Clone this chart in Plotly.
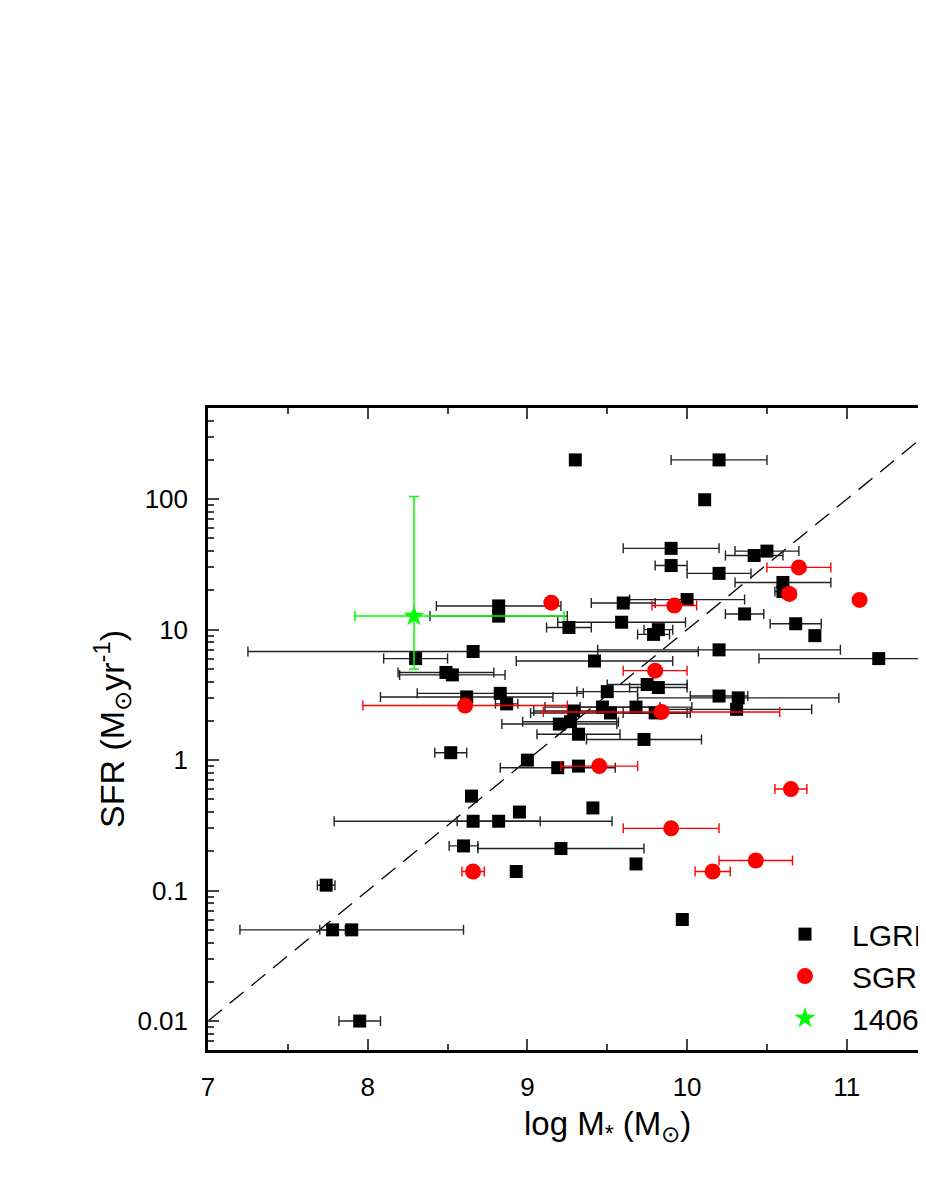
import numpy as np
import plotly.graph_objects as go

# ---------------- data ----------------
# LGRB hosts: log M*, SFR, x-error
lgrb_logm = [9.30, 10.20, 10.11, 9.90, 10.50, 10.42, 9.90, 10.20, 10.60, 10.60,
             10.00, 9.60, 8.82, 8.82, 10.36, 9.59, 9.26, 10.68, 9.82, 9.79,
             10.80, 10.20, 8.66, 8.30, 11.20, 9.42, 8.49, 8.53, 9.75, 9.82,
             9.50, 8.83, 10.20, 8.62, 10.32, 8.87, 9.47, 9.68, 10.31, 9.29,
             9.52, 9.80, 9.27, 9.20, 9.32, 9.73, 8.52, 9.00, 9.19, 9.32,
             8.65, 9.41, 8.95, 8.66, 8.82, 8.60, 9.21, 9.68, 8.93, 7.74,
             7.78, 7.90, 7.95, 9.97]
lgrb_sfr = [200, 200, 99, 42, 40, 37, 31, 27, 23, 19.6,
            17, 16, 15.2, 12.7, 13.2, 11.4, 10.4, 11.1, 10.0, 9.2,
            9.0, 7.0, 6.8, 6.0, 6.0, 5.75, 4.7, 4.5, 3.8, 3.6,
            3.35, 3.25, 3.1, 3.05, 3.0, 2.7, 2.55, 2.55, 2.45, 2.38,
            2.3, 2.3, 1.97, 1.89, 1.58, 1.44, 1.14, 1.0, 0.875, 0.90,
            0.53, 0.43, 0.40, 0.34, 0.34, 0.22, 0.21, 0.16, 0.14, 0.11,
            0.05, 0.05, 0.01, 0.06]
lgrb_xerr = [0, 0.30, 0, 0.30, 0.20, 0.18, 0.10, 0.20, 0.30, 0.05,
             0.36, 0.20, 0.39, 0.43, 0.12, 0.40, 0.14, 0.16, 0.09, 0.10,
             0, 0.76, 1.41, 0.20, 0.75, 0.49, 0.30, 0.33, 0.25, 0.18,
             0.19, 0.52, 0.18, 0.54, 0.63, 0.07, 0.36, 0.35, 0.47, 0.25,
             0.50, 0.20, 0.30, 0.36, 0.26, 0.36, 0.10, 0, 0.36, 0,
             0.03, 0, 0, 0.87, 0.26, 0.09, 0.52, 0, 0, 0.055,
             0.08, 0.70, 0.13, 0]

# SGRB hosts
sgrb_logm = [10.70, 10.64, 11.08, 9.15, 9.92, 9.80, 8.61, 9.84, 9.45, 10.65,
             9.90, 10.43, 10.16, 8.66]
sgrb_sfr = [30, 18.8, 16.9, 16.1, 15.3, 4.85, 2.62, 2.34, 0.90, 0.60,
            0.30, 0.17, 0.14, 0.14]
sgrb_xerr = [0.20, 0.04, 0, 0, 0.14, 0.20, 0.64, 0.74, 0.24, 0.10,
             0.30, 0.23, 0.11, 0.07]

# GRB 140622A
g_logm = [8.29]
g_sfr = [12.7]
g_xerr_minus = [0.37]
g_xerr_plus = [0.94]
g_yerr_minus = [7.7]
g_yerr_plus = [92]

# reference line: constant specific SFR
SSFR = 1e-9
line_logm = np.array([7.0, 12.0])
line_sfr = SSFR * 10 ** line_logm

x_ticks = [7, 8, 9, 10, 11, 12]
y_ticks = [0.01, 0.1, 1, 10, 100]
y_ticktext = ["0.01", "0.1", "1", "10", "100"]

FONT = "Liberation Sans, Arial, sans-serif"

fig = go.Figure()

fig.add_trace(go.Scatter(
    x=line_logm, y=line_sfr, mode="lines", showlegend=False,
    line=dict(color="black", width=1.3, dash="18px,10px"), hoverinfo="skip"))

fig.add_trace(go.Scatter(
    x=lgrb_logm, y=lgrb_sfr, mode="markers", name="LGRBs",
    marker=dict(symbol="square", size=13, color="black"),
    error_x=dict(type="data", array=lgrb_xerr, symmetric=True,
                 color="#222222", thickness=1.4, width=5)))

fig.add_trace(go.Scatter(
    x=sgrb_logm, y=sgrb_sfr, mode="markers", name="SGRBs",
    marker=dict(symbol="circle", size=16, color="#ff0000"),
    error_x=dict(type="data", array=sgrb_xerr, symmetric=True,
                 color="#ff0000", thickness=1.4, width=5)))

fig.add_trace(go.Scatter(
    x=g_logm, y=g_sfr, mode="markers", name="140622A",
    marker=dict(symbol="star", size=16, color="#00ff00"),
    error_x=dict(type="data", array=g_xerr_plus, arrayminus=g_xerr_minus,
                 symmetric=False, color="#00ff00", thickness=1.5, width=5),
    error_y=dict(type="data", array=g_yerr_plus, arrayminus=g_yerr_minus,
                 symmetric=False, color="#00ff00", thickness=1.5, width=5)))

minor_y = [k * 10.0 ** e for e in range(-3, 3) for k in range(2, 10)]

W, H = 918, 1175
ML, MT = 200, 400
MB = H - 1042
XPX = 159.7  # pixels per dex
x_max = 7 + (W - ML) / XPX

fig.update_layout(
    width=W, height=H,
    margin=dict(l=ML, r=0, t=MT, b=MB, autoexpand=False),
    paper_bgcolor="white", plot_bgcolor="white",
    font=dict(family=FONT, color="black", size=26),
    showlegend=True,
    legend=dict(x=0.766, y=0.221, xanchor="left", yanchor="top",
                bgcolor="rgba(0,0,0,0)", font=dict(size=30, family=FONT),
                itemwidth=84, tracegroupgap=0),
    xaxis=dict(
        range=[7, x_max], tickvals=x_ticks, ticks="inside", ticklen=11, tickwidth=2,
        showline=True, linewidth=2.5, linecolor="black", mirror="ticks",
        showgrid=False, zeroline=False, tickfont=dict(size=26),
        ticklabelstandoff=12, automargin=False,
        minor=dict(dtick=0.5, ticks="inside", ticklen=6, tickwidth=2, showgrid=False)),
    yaxis=dict(
        type="log", range=[np.log10(0.006), np.log10(500)],
        tickvals=y_ticks, ticktext=y_ticktext, ticks="inside", ticklen=11, tickwidth=2,
        showline=True, linewidth=2.5, linecolor="black", mirror=False,
        showgrid=False, zeroline=False, tickfont=dict(size=26),
        ticklabelstandoff=12, automargin=False,
        minor=dict(tickvals=minor_y, ticks="inside", ticklen=6, tickwidth=2, showgrid=False),
        title=dict(text="SFR (M<sub>\u2299</sub>yr<sup>-1</sup>)", font=dict(size=34), standoff=3)),
)

# x-axis title centred on the full 7-12 axis (which runs past the visible page)
x_title_center = (9.5 - 7) / (x_max - 7)
fig.add_annotation(
    x=x_title_center, xref="paper", y=0, yref="paper", yshift=-76,
    text="log M<sub>*</sub> (M<sub>\u2299</sub>)", showarrow=False,
    font=dict(size=33, family=FONT), xanchor="center", yanchor="middle")

fig.write_html("out.html")
